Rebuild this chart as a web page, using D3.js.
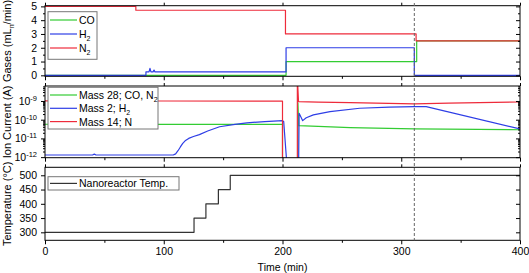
<!DOCTYPE html>
<html>
<head>
<meta charset="utf-8">
<script src="https://cdn.jsdelivr.net/npm/d3@7"></script>
<style>
  body { margin: 0; background: #fff; }
  text { font-family: "Liberation Sans", Arial, sans-serif; fill: #000; }
</style>
</head>
<body>
<svg id="chart" width="529" height="273"></svg>
<script>
// ---- data ----
const timeTicks = [0, 100, 200, 300, 400];
const timeMinor = [50, 150, 250, 350];
const markerTime = 311;

// gases (mLn/min)
const gasTicks = [0, 1, 2, 3, 4, 5];
const gasMinor = [0.5, 1.5, 2.5, 3.5, 4.5];
const coTime = [0, 203, 203, 313, 313, 400];
const coFlow = [0, 0, 1.0, 1.0, 2.5, 2.5];
const h2Time = [0, 85, 85, 87.6, 88.4, 89.2, 91.0, 91.8, 92.6, 203, 203, 311, 311, 400];
const h2Flow = [0, 0, 0.25, 0.25, 0.5, 0.25, 0.25, 0.38, 0.25, 0.25, 2.0, 2.0, 0, 0];
const n2Time = [0, 76.5, 76.5, 202.5, 202.5, 312.5, 312.5, 400];
const n2Flow = [5, 5, 4.72, 4.72, 3.0, 3.0, 2.5, 2.5];

// ion currents (A)
const ionTicks = [1e-12, 1e-11, 1e-10, 1e-9];
const m28Time = [0, 100, 200, 200, 213, 213, 213.7, 230, 257, 311, 400];
const m28Current = [5.7e-11, 5.6e-11, 5.6e-11, 1e-13, 1e-13, 8e-10, 4.8e-11, 4.4e-11, 3.8e-11, 3.2e-11, 2.9e-11];
const m2Time = [0, 40, 41.5, 43, 108, 110, 112, 114, 116, 118, 121, 125, 130, 137, 147, 160, 170, 185, 200, 201, 203.5,
                213.5, 214, 217, 220, 226, 240, 265, 290, 311, 321, 400];
const m2Current = [1.3e-12, 1.3e-12, 1.45e-12, 1.3e-12, 1.3e-12, 1.5e-12, 2.2e-12, 3.5e-12, 5.4e-12, 7.4e-12, 1.0e-11,
                   1.26e-11, 1.6e-11, 2.5e-11, 4.2e-11, 5.6e-11, 6.8e-11, 7.9e-11, 8.9e-11, 8e-11, 6e-13,
                   1e-13, 2.2e-10, 8.9e-11, 1.26e-10, 1.8e-10, 2.7e-10, 4.1e-10, 4.7e-10, 5.0e-10, 5.0e-10, 3.2e-11];
const m14Time = [0, 100, 200, 200, 212.5, 212.5, 213.5, 230, 257, 311, 340, 400];
const m14Current = [1.02e-9, 1.0e-9, 9.8e-10, 1e-13, 1e-13, 2e-8, 9.2e-10, 8.6e-10, 8.1e-10, 7.0e-10, 7.6e-10, 8.8e-10];

// temperature (°C)
const tempTicks = [300, 350, 400, 450, 500];
const tempTime = [0, 125.5, 125.5, 135.5, 135.5, 146, 146, 156, 156, 400];
const tempValue = [300, 300, 350, 350, 400, 400, 450, 450, 500, 500];

// ---- drawing ----
const svg = d3.select('#chart');
const x = d3.scaleLinear().domain([0, 400]).range([45, 520]);
const green = '#33cc33', blue = '#2e3ee6', red = '#ee2b3b';

const zip = (t, v) => t.map((d, i) => [d, v[i]]);

function drawPanel(id, top, bottom, y, opt) {
  y.range([bottom, top]);
  const g = svg.append('g');

  g.append('clipPath').attr('id', 'clip-' + id)
    .append('rect').attr('x', x.range()[0]).attr('y', top)
    .attr('width', x.range()[1] - x.range()[0]).attr('height', bottom - top);

  const line = d3.line().x(d => x(d[0])).y(d => y(d[1]));
  opt.series.forEach(s => {
    g.append('path').datum(zip(s.t, s.v))
      .attr('clip-path', 'url(#clip-' + id + ')')
      .attr('fill', 'none').attr('stroke', s.color).attr('stroke-width', 1.2)
      .attr('stroke-linejoin', 'round')
      .attr('d', line);
  });

  // frame
  g.append('rect').attr('x', x.range()[0]).attr('y', top)
    .attr('width', x.range()[1] - x.range()[0]).attr('height', bottom - top)
    .attr('fill', 'none').attr('stroke', '#000').attr('stroke-width', 1);

  const noDomain = a => a.call(s => s.select('.domain').remove());

  // x ticks, bottom (outward) and top (outward)
  g.append('g').attr('transform', `translate(0,${bottom})`)
    .call(d3.axisBottom(x).tickValues(timeTicks).tickSize(4).tickPadding(3)
      .tickFormat(opt.xLabels ? d3.format('d') : ''))
    .call(noDomain);
  g.append('g').attr('transform', `translate(0,${bottom})`)
    .call(d3.axisBottom(x).tickValues(timeMinor).tickSize(2.5).tickFormat(''))
    .call(noDomain);
  g.append('g').attr('transform', `translate(0,${top})`)
    .call(d3.axisTop(x).tickValues(timeTicks).tickSize(3).tickFormat(''))
    .call(noDomain);

  // y ticks, left outward, right inward
  g.append('g').attr('class', 'yleft').attr('transform', `translate(${x.range()[0]},0)`)
    .call(d3.axisLeft(y).tickValues(opt.yTicks).tickSize(4).tickPadding(4).tickFormat(opt.yFormat))
    .call(noDomain);
  g.append('g').attr('transform', `translate(${x.range()[1]},0)`)
    .call(d3.axisLeft(y).tickValues(opt.yTicks).tickSize(4).tickFormat(''))
    .call(noDomain);
  if (opt.yMinor) {
    g.append('g').attr('transform', `translate(${x.range()[0]},0)`)
      .call(d3.axisLeft(y).tickValues(opt.yMinor).tickSize(2).tickFormat(''))
      .call(noDomain);
    g.append('g').attr('transform', `translate(${x.range()[1]},0)`)
      .call(d3.axisLeft(y).tickValues(opt.yMinor).tickSize(2).tickFormat(''))
      .call(noDomain);
  }

  g.selectAll('.tick text').style('font-size', '10.5px').style('font-family', '"Liberation Sans", Arial, sans-serif');
  g.selectAll('.tick line').attr('stroke', '#000');

  // axis title
  const title = g.append('text')
    .attr('transform', `translate(11,${(top + bottom) / 2}) rotate(-90)`)
    .attr('text-anchor', 'middle').style('font-size', '11px');
  opt.title.forEach(p => {
    const ts = title.append('tspan').text(p.t);
    if (p.sub) ts.attr('dy', 2.5).style('font-size', '7px');
    if (p.after) ts.attr('dy', -2.5);
  });

  // legend
  const lg = opt.legend;
  g.append('rect').attr('x', 48).attr('y', lg.y0).attr('width', lg.w).attr('height', lg.h)
    .attr('fill', '#fff').attr('stroke', '#777').attr('stroke-width', 1);
  lg.rows.forEach((r, i) => {
    const ly = lg.y0 + lg.first + i * lg.step;
    g.append('line').attr('x1', 50).attr('x2', 77).attr('y1', ly).attr('y2', ly)
      .attr('stroke', r.color).attr('stroke-width', 1.2);
    const tx = g.append('text').attr('x', 79).attr('y', ly + 4).style('font-size', '10.5px');
    r.label.forEach(p => {
      const ts = tx.append('tspan').text(p.t);
      if (p.sub) ts.attr('dy', 2.5).style('font-size', '7px');
    });
  });
  return g;
}

// panel 1
drawPanel('gas', 5.7, 76.3, d3.scaleLinear().domain([-0.07, 5.05]), {
  series: [
    {t: coTime, v: coFlow, color: green},
    {t: h2Time, v: h2Flow, color: blue},
    {t: n2Time, v: n2Flow, color: red}
  ],
  yTicks: gasTicks, yMinor: gasMinor, yFormat: d3.format('d'),
  title: [{t: 'Gases (mL'}, {t: 'n', sub: true}, {t: '/min)', after: true}],
  legend: {y0: 11.7, w: 49, h: 47.6, first: 8.3, step: 14,
    rows: [
      {color: green, label: [{t: 'CO'}]},
      {color: blue, label: [{t: 'H'}, {t: '2', sub: true}]},
      {color: red, label: [{t: 'N'}, {t: '2', sub: true}]}
    ]}
});

// panel 2
const ionY = d3.scaleLog().domain([Math.pow(10, -12.03), Math.pow(10, -8.2)]);
const p2 = drawPanel('ion', 86, 157.7, ionY, {
  series: [
    {t: m28Time, v: m28Current, color: green},
    {t: m2Time, v: m2Current, color: blue},
    {t: m14Time, v: m14Current, color: red}
  ],
  yTicks: ionTicks,
  yMinor: d3.range(-12, -8).flatMap(e => d3.range(2, 10).map(k => k * Math.pow(10, e))).filter(v => v < Math.pow(10, -8.2)),
  yFormat: d => '',
  title: [{t: 'Ion Current (A)'}],
  legend: {y0: 87.3, w: 110, h: 41.7, first: 7.7, step: 13.3,
    rows: [
      {color: green, label: [{t: 'Mass 28; CO, N'}, {t: '2', sub: true}]},
      {color: blue, label: [{t: 'Mass 2; H'}, {t: '2', sub: true}]},
      {color: red, label: [{t: 'Mass 14; N'}]}
    ]}
});
// power-of-ten labels
p2.select('.yleft').selectAll('.tick text').each(function (d) {
  const t = d3.select(this).text('');
  t.append('tspan').text('10');
  t.append('tspan').text(String(Math.round(Math.log10(d)))).attr('dy', -4).style('font-size', '7.5px');
});

// panel 3
drawPanel('temp', 167.3, 240.3, d3.scaleLinear().domain([272, 528]), {
  series: [{t: tempTime, v: tempValue, color: '#333'}],
  yTicks: tempTicks, yFormat: d3.format('d'), xLabels: true,
  title: [{t: 'Temperature (°C)'}],
  legend: {y0: 176.7, w: 131, h: 13.3, first: 6.7, step: 0,
    rows: [{color: '#333', label: [{t: 'Nanoreactor Temp.'}]}]}
});

// x title
svg.append('text').attr('x', (x.range()[0] + x.range()[1]) / 2).attr('y', 271)
  .attr('text-anchor', 'middle').style('font-size', '10.5px').text('Time (min)');

// dashed marker across all panels
svg.append('line').attr('x1', x(markerTime)).attr('x2', x(markerTime))
  .attr('y1', 3).attr('y2', 240.3)
  .attr('stroke', '#666').attr('stroke-width', 1).attr('stroke-dasharray', '3,2');
</script>
</body>
</html>
